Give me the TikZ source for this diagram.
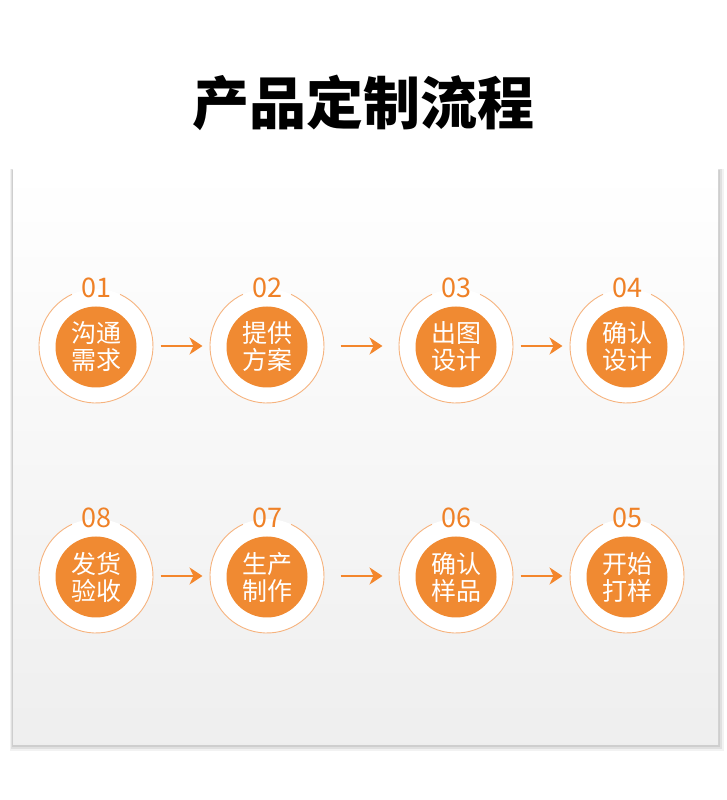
\documentclass[tikz,border=0pt]{standalone}
\usepackage{fontspec}
\setmainfont{Noto Sans CJK SC}
\usepackage{xcolor}
\usepackage{tikz}
\usetikzlibrary{calc,arrows.meta,positioning}

\definecolor{orangefill}{HTML}{F08A32}
\definecolor{orangetext}{HTML}{EF8127}
\definecolor{ringcol}{HTML}{F6B37E}
\definecolor{arrowcol}{HTML}{F3862C}

\begin{document}
\begin{tikzpicture}[x=1pt,y=1pt,
    ring/.style={circle, minimum size=114pt, inner sep=0pt, outer sep=0pt, fill=white},
    ringline/.style={draw=ringcol, line width=0.9pt},
    core/.style={circle, minimum size=81pt, inner sep=0pt, fill=orangefill, text=white,
                 align=center, font=\fontsize{25}{27}\selectfont},
    num/.style={text=orangetext, inner sep=1pt, font=\fontsize{27}{28}\selectfont},
    flow/.style={draw=arrowcol, line width=2.2pt, -{Stealth[length=13pt,width=17pt,inset=4pt]}}]
            \useasboundingbox (0,0) rectangle (727,800);
            \fill[white] (0,0) rectangle (727,800);
            \node[font=\fontsize{57}{60}\selectfont\bfseries] (title) at (363,697) {产品定制流程};
            % panel
            \fill[black, opacity=0.05] (10,49) rectangle (724,631);
            \fill[black, opacity=0.07] (11,51) rectangle (722,631);
            \fill[black, opacity=0.08] (12,53) rectangle (720,630);
            \shade[top color=white, bottom color=gray!13] (13,55) rectangle (718,630);
            % first row
            \node[ring] (c1) at (96,454) {};
            \node[ring] (c2) at (267,454) {};
            \node[ring] (c3) at (456,454) {};
            \node[ring] (c4) at (627,454) {};
            % second row
            \node[ring] (c8) at (96,224) {};
            \node[ring] (c7) at (267,224) {};
            \node[ring] (c6) at (456,224) {};
            \node[ring] (c5) at (627,224) {};
            \foreach \c in {c1,c2,c3,c4,c5,c6,c7,c8}
                \draw[ringline] (\c.65) arc[start angle=65, end angle=-245, radius=57pt];
            \node[core] (s1) at ([yshift=-1pt]c1) {沟通\\需求};
            \node[core] (s2) at ([yshift=-1pt]c2) {提供\\方案};
            \node[core] (s3) at ([yshift=-1pt]c3) {出图\\设计};
            \node[core] (s4) at ([yshift=-1pt]c4) {确认\\设计};
            \node[core] (s5) at ([yshift=-1pt]c5) {开始\\打样};
            \node[core] (s6) at ([yshift=-1pt]c6) {确认\\样品};
            \node[core] (s7) at ([yshift=-1pt]c7) {生产\\制作};
            \node[core] (s8) at ([yshift=-1pt]c8) {发货\\验收};
            \node[num] (n1) at ([yshift=1pt]c1.north) {01};
            \node[num] (n2) at ([yshift=1pt]c2.north) {02};
            \node[num] (n3) at ([yshift=1pt]c3.north) {03};
            \node[num] (n4) at ([yshift=1pt]c4.north) {04};
            \node[num] (n5) at ([yshift=1pt]c5.north) {05};
            \node[num] (n6) at ([yshift=1pt]c6.north) {06};
            \node[num] (n7) at ([yshift=1pt]c7.north) {07};
            \node[num] (n8) at ([yshift=1pt]c8.north) {08};
            % arrows
            \draw[flow] ($(c1.east)!0.5!(c2.west)+(-21,0)$) -- ($(c1.east)!0.5!(c2.west)+(21,0)$);
            \draw[flow] ($(c2.east)!0.5!(c3.west)+(-21,0)$) -- ($(c2.east)!0.5!(c3.west)+(21,0)$);
            \draw[flow] ($(c3.east)!0.5!(c4.west)+(-21,0)$) -- ($(c3.east)!0.5!(c4.west)+(21,0)$);
            \draw[flow] ($(c8.east)!0.5!(c7.west)+(-21,0)$) -- ($(c8.east)!0.5!(c7.west)+(21,0)$);
            \draw[flow] ($(c7.east)!0.5!(c6.west)+(-21,0)$) -- ($(c7.east)!0.5!(c6.west)+(21,0)$);
            \draw[flow] ($(c6.east)!0.5!(c5.west)+(-21,0)$) -- ($(c6.east)!0.5!(c5.west)+(21,0)$);
\end{tikzpicture}
\end{document}
